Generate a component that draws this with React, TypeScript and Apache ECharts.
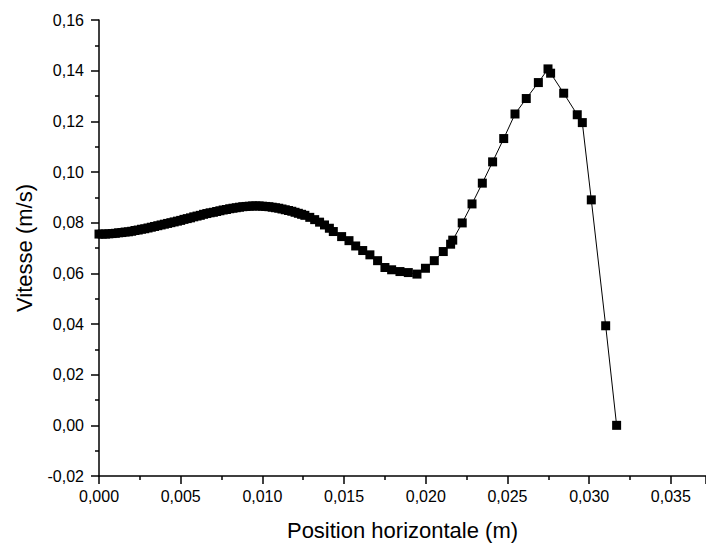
import React, { useEffect, useRef } from "react";
import * as echarts from "echarts";

const positions: number[] = [
  0.0, 0.0002, 0.0004, 0.0006, 0.0008, 0.001, 0.0012, 0.0014, 0.0016, 0.0018,
  0.002, 0.0022, 0.0024, 0.0026, 0.0028, 0.003, 0.0032, 0.0034, 0.0036, 0.0038,
  0.004, 0.0042, 0.0044, 0.0046, 0.0048, 0.005, 0.0052, 0.0054, 0.0056, 0.0058,
  0.006, 0.0062, 0.0064, 0.0066, 0.0068, 0.007, 0.0072, 0.0074, 0.0076, 0.0078,
  0.008, 0.0082, 0.0084, 0.0086, 0.0088, 0.009, 0.0092, 0.0094, 0.0096, 0.0098,
  0.01, 0.0102, 0.0104, 0.0106, 0.0108, 0.011, 0.0112, 0.0114, 0.0116, 0.0118,
  0.012, 0.0122, 0.0124, 0.0126, 0.0129, 0.0132, 0.0135, 0.0138, 0.0141,
  0.01434, 0.01485, 0.0153, 0.01571, 0.01614, 0.01658, 0.01705, 0.0175, 0.01791,
  0.01842, 0.01893, 0.01946, 0.01998, 0.02052, 0.02107, 0.02152, 0.02165, 0.02223,
  0.02283, 0.02346, 0.02409, 0.02477, 0.02546, 0.02615, 0.02689, 0.02748, 0.02764,
  0.02844, 0.02927, 0.02958, 0.03013, 0.03101, 0.03168,
];

const speeds: number[] = [
  0.0755, 0.0755, 0.0755, 0.0756, 0.0757, 0.0758, 0.076, 0.0761, 0.0763, 0.0764,
  0.0766, 0.0769, 0.0771, 0.0774, 0.0776, 0.0779, 0.0782, 0.0785, 0.0788, 0.0791,
  0.0794, 0.0797, 0.08, 0.0803, 0.0806, 0.0809, 0.0813, 0.0816, 0.0819, 0.0823,
  0.0826, 0.0829, 0.0833, 0.0836, 0.0839, 0.0841, 0.0844, 0.0847, 0.085, 0.0852,
  0.0855, 0.0857, 0.0859, 0.0861, 0.0863, 0.0864, 0.0865, 0.0866, 0.0866, 0.0866,
  0.0865, 0.0864, 0.0863, 0.0861, 0.0859, 0.0857, 0.0854, 0.0851, 0.0848, 0.0845,
  0.0841, 0.0837, 0.0833, 0.0829, 0.0821, 0.0812, 0.0802, 0.0791, 0.0778,
  0.0765, 0.0745, 0.0729, 0.0708, 0.069, 0.0673, 0.065, 0.0623, 0.0614,
  0.0607, 0.0603, 0.0597, 0.062, 0.065, 0.0686, 0.0715, 0.0731, 0.0799,
  0.0874, 0.0956, 0.104, 0.1132, 0.1229, 0.129, 0.1353, 0.1407, 0.139,
  0.1311, 0.1226, 0.1195, 0.089, 0.0393, 0.0,
];

const xTitle = "Position horizontale (m)";
const yTitle = "Vitesse (m/s)";

const FONT = "'Liberation Sans', Arial, sans-serif";

export default function App() {
  const ref = useRef<HTMLDivElement>(null);
  useEffect(() => {
    if (!ref.current) return;
    const chart = echarts.init(ref.current, null, { renderer: "svg" });
    const data = positions.map((x, i) => [x, speeds[i]]);
    chart.setOption({
      animation: false,
      backgroundColor: "#ffffff",
      grid: { left: 99, right: 0, top: 20, bottom: 75 },
      xAxis: {
        type: "value",
        min: 0,
        max: 0.03715,
        interval: 0.005,
        name: xTitle,
        nameLocation: "middle",
        nameGap: 43,
        nameTextStyle: { fontFamily: FONT, fontSize: 22, color: "#000" },
        axisLine: { show: true, onZero: false, lineStyle: { color: "#000", width: 1.5 } },
        axisTick: { show: true, inside: false, length: 8, lineStyle: { color: "#000", width: 1.5 } },
        minorTick: { show: true, splitNumber: 2, length: 4, lineStyle: { color: "#000", width: 1.5 } },
        splitLine: { show: false },
        axisLabel: {
          fontFamily: FONT,
          fontSize: 16,
          color: "#000",
          margin: 12,
          showMaxLabel: false,
          formatter: (v: number) => v.toFixed(3).replace(".", ","),
        },
      },
      yAxis: {
        type: "value",
        min: -0.02,
        max: 0.16,
        interval: 0.02,
        name: yTitle,
        nameLocation: "middle",
        nameGap: 64,
        nameTextStyle: { fontFamily: FONT, fontSize: 22, color: "#000" },
        axisLine: { show: true, onZero: false, lineStyle: { color: "#000", width: 1.5 } },
        axisTick: { show: true, inside: false, length: 8, lineStyle: { color: "#000", width: 1.5 } },
        minorTick: { show: true, splitNumber: 2, length: 4, lineStyle: { color: "#000", width: 1.5 } },
        splitLine: { show: false },
        axisLabel: {
          fontFamily: FONT,
          fontSize: 16,
          color: "#000",
          margin: 15,
          formatter: (v: number) => v.toFixed(2).replace(".", ","),
        },
      },
      series: [
        {
          type: "line",
          data,
          symbol: "rect",
          symbolSize: 9,
          showAllSymbol: true,
          itemStyle: { color: "#000" },
          lineStyle: { color: "#000", width: 1 },
        },
      ],
    });
    return () => chart.dispose();
  }, []);
  return (
    <div
      ref={ref}
      style={{ position: "absolute", left: 0, top: 0, width: 706, height: 551 }}
    />
  );
}
